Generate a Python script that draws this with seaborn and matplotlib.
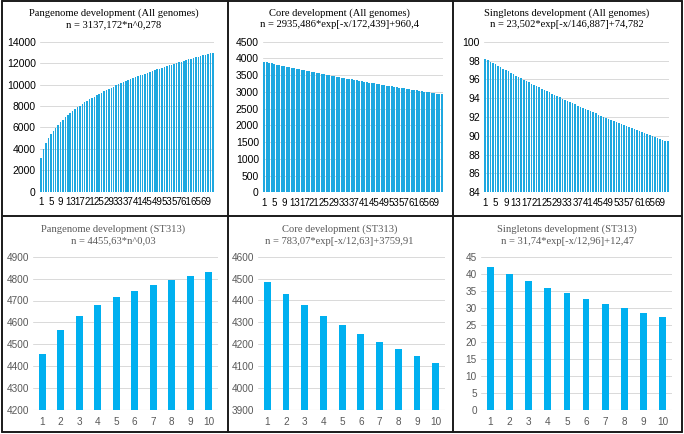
import matplotlib
matplotlib.use("Agg")
import matplotlib.pyplot as plt
import seaborn as sns
import numpy as np
from matplotlib.lines import Line2D

sns.set_theme(style="white")

# ---------------- data ----------------
genomes_all = list(range(1, 73))
pan_all = [3137, 3949, 4518, 4971, 5353, 5687, 5985, 6256, 6506, 6738,
           6955, 7158, 7351, 7534, 7709, 7876, 8036, 8190, 8338, 8481,
           8620, 8753, 8884, 9010, 9134, 9253, 9370, 9484, 9594, 9703,
           9810, 9914, 10015, 10115, 10213, 10308, 10403, 10495, 10586, 10675,
           10763, 10850, 10935, 11019, 11101, 11182, 11262, 11341, 11419, 11496,
           11572, 11646, 11720, 11793, 11865, 11937, 12007, 12077, 12145, 12213,
           12281, 12347, 12413, 12478, 12542, 12606, 12669, 12732, 12793, 12854,
           12915, 12976]
core_all = [3900, 3884, 3867, 3851, 3834, 3818, 3802, 3786, 3770, 3754,
            3738, 3723, 3707, 3692, 3676, 3661, 3646, 3630, 3615, 3600,
            3586, 3571, 3556, 3541, 3527, 3512, 3498, 3484, 3469, 3455,
            3441, 3427, 3413, 3400, 3386, 3372, 3359, 3345, 3332, 3318,
            3305, 3292, 3279, 3266, 3253, 3240, 3227, 3214, 3202, 3189,
            3177, 3164, 3152, 3140, 3127, 3115, 3103, 3091, 3079, 3067,
            3056, 3044, 3032, 3021, 3009, 2998, 2986, 2975, 2964, 2952,
            2941, 2930]
single_all = [98.20, 98.05, 97.89, 97.74, 97.59, 97.43, 97.28, 97.13, 96.99, 96.84,
              96.69, 96.55, 96.40, 96.26, 96.12, 95.97, 95.83, 95.69, 95.55, 95.42,
              95.28, 95.14, 95.01, 94.87, 94.74, 94.61, 94.48, 94.35, 94.22, 94.09,
              93.96, 93.83, 93.71, 93.58, 93.46, 93.33, 93.21, 93.09, 92.97, 92.85,
              92.73, 92.61, 92.49, 92.38, 92.26, 92.14, 92.03, 91.92, 91.80, 91.69,
              91.58, 91.47, 91.36, 91.25, 91.14, 91.03, 90.92, 90.82, 90.71, 90.61,
              90.50, 90.40, 90.30, 90.19, 90.09, 89.99, 89.89, 89.79, 89.69, 89.60,
              89.50, 89.40]

genomes_st = list(range(1, 11))
pan_st = [4457, 4565, 4630, 4678, 4715, 4745, 4771, 4795, 4813, 4832]
core_st = [4484, 4430, 4378, 4331, 4289, 4248, 4211, 4177, 4145, 4115]
single_st = [42.0, 40.0, 37.8, 35.9, 34.2, 32.6, 31.1, 29.8, 28.4, 27.2]

titles = [
    ("Pangenome development (All genomes)", "n = 3137,172*n^0,278"),
    ("Core development (All genomes)", "n = 2935,486*exp[-x/172,439]+960,4"),
    ("Singletons development (All genomes)", "n = 23,502*exp[-x/146,887]+74,782"),
    ("Pangenome development (ST313)", "n = 4455,63*n^0,03"),
    ("Core development (ST313)", "n = 783,07*exp[-x/12,63]+3759,91"),
    ("Singletons development (ST313)", "n = 31,74*exp[-x/12,96]+12,47"),
]

# ---------------- figure ----------------
W, H = 684, 434
fig = plt.figure(figsize=(W / 100, H / 100), dpi=100)
fig.patch.set_facecolor("white")


def ax_at(l, t, r, b):
    return fig.add_axes([l / W, 1 - b / H, (r - l) / W, (b - t) / H])


serif = ["Liberation Serif", "DejaVu Serif"]
sans = ["Liberation Sans", "DejaVu Sans"]

top_color = "#1EA8E0"
bot_color = "#00B0F0"
grid_c = "#D9D9D9"

top_specs = [
    (genomes_all, pan_all, (40, 41.7, 214, 191.7), (0, 14000), np.arange(0, 14001, 2000), 113.5),
    (genomes_all, core_all, (263, 41.7, 443, 192.3), (0, 4500), np.arange(0, 4501, 500), 339.5),
    (genomes_all, single_all, (484, 41.7, 669, 192.3), (84, 100), np.arange(84, 101, 2), 567),
]
bot_specs = [
    (genomes_st, pan_st, (33, 256.7, 218, 410), (4200, 4900), np.arange(4200, 4901, 100), 113.5),
    (genomes_st, core_st, (258, 256.7, 445, 410), (3900, 4600), np.arange(3900, 4601, 100), 339.5),
    (genomes_st, single_st, (481, 256.7, 672, 410), (0, 45), np.arange(0, 46, 5), 567),
]


def style_axes(ax, ylim, yticks, tick_color, fsize, family):
    ax.set_ylim(*ylim)
    ax.set_yticks(yticks)
    ax.set_yticklabels([f"{int(v)}" for v in yticks], fontsize=fsize,
                       color=tick_color, family=family)
    ax.yaxis.grid(True, color=grid_c, linewidth=0.7)
    ax.set_axisbelow(True)
    for s in ax.spines.values():
        s.set_visible(False)
    ax.tick_params(axis="both", length=0, pad=3)
    ax.set_xlabel("")
    ax.set_ylabel("")
    ax.set_facecolor("white")


for i, (xs, ys, box, ylim, yticks, cx) in enumerate(top_specs):
    ax = ax_at(*box)
    sns.barplot(x=xs, y=ys, ax=ax, color=top_color, width=0.62,
                saturation=1, linewidth=0)
    style_axes(ax, ylim, yticks, "#000000", 7.5, sans)
    ax.set_xlim(-0.5, len(xs) - 0.5)
    pos = list(range(0, len(xs), 4))
    ax.set_xticks(pos)
    ax.set_xticklabels([str(xs[p]) for p in pos], fontsize=7.0,
                       color="#000000", family=sans)
    ax.tick_params(axis="x", pad=4)
    fig.text(cx / W, 1 - 13.5 / H, titles[i][0], ha="center", va="center",
             fontsize=7.6, family=serif, color="#000000")
    fig.text(cx / W, 1 - 24.5 / H, titles[i][1], ha="center", va="center",
             fontsize=7.6, family=serif, color="#000000")

for i, (xs, ys, box, ylim, yticks, cx) in enumerate(bot_specs):
    ax = ax_at(*box)
    sns.barplot(x=xs, y=ys, ax=ax, color=bot_color, width=0.36,
                saturation=1, linewidth=0)
    style_axes(ax, ylim, yticks, "#595959", 7.2, sans)
    ax.set_xlim(-0.5, len(xs) - 0.5)
    ax.set_xticks(range(len(xs)))
    ax.set_xticklabels([str(v) for v in xs], fontsize=7.2, color="#595959",
                       family=sans)
    ax.tick_params(axis="x", pad=5)
    ax.axhline(ylim[0], color=grid_c, linewidth=0.8, zorder=0.5)
    fig.text(cx / W, 1 - 229 / H, titles[3 + i][0], ha="center", va="center",
             fontsize=7.6, family=serif, color="#595959")
    fig.text(cx / W, 1 - 241 / H, titles[3 + i][1], ha="center", va="center",
             fontsize=7.6, family=serif, color="#595959")

# ---------------- panel borders ----------------
lc = "#1a1a1a"
lw = 1.4


def hline(y, x0=1.5, x1=682):
    fig.add_artist(Line2D([x0 / W, x1 / W], [1 - y / H, 1 - y / H], color=lc, lw=lw))


def vline(x, y0=1.0, y1=432):
    fig.add_artist(Line2D([x / W, x / W], [1 - y0 / H, 1 - y1 / H], color=lc, lw=lw))


hline(1.0)
hline(215.5)
hline(432)
vline(1.5)
vline(227.5)
vline(453)
vline(682)

fig.savefig("out.png", dpi=100, facecolor="white")
